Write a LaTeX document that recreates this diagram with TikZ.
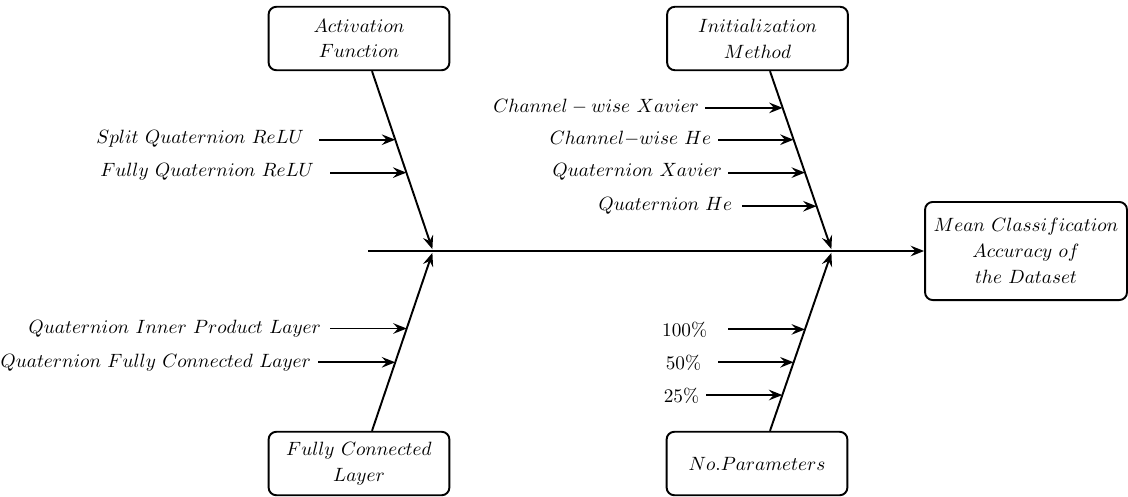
\documentclass[tikz,border=0pt]{standalone}
\usepackage{amsmath}
\usetikzlibrary{arrows.meta,calc}

\begin{document}
\begin{tikzpicture}[line width=1pt, >={Stealth[length=7pt,width=5.5pt,inset=2.5pt]}, x=0.52pt, y=-0.52pt,
        catbox/.style={draw, rounded corners=4pt, align=center, font=\linespread{1.12}\selectfont,
            minimum width=94pt, minimum height=33pt, inner sep=2pt},
        cause/.style={anchor=east, inner sep=0pt}]
        \useasboundingbox (0,0) rectangle (1128,496);

        % category boxes
        \node[catbox] (act) at (359,38.5) {$Activation$\\$Function$};
        \node[catbox] (init) at (757.5,38.5) {$Initialization$\\$Method$};
        \node[catbox] (fc) at (359,463.5) {$Fully\ Connected$\\$Layer$};
        \node[catbox] (par) at (757,463.5) {$No.Parameters$};
        \node[catbox, minimum width=105pt, minimum height=51pt] (acc) at (1026,251)
            {$Mean\ Classification$\\$Accuracy\ of$\\$the\ Dataset$};

        % spine
        \coordinate (tail) at (368,251);
        \coordinate (j1) at (433,251);
        \coordinate (j2) at (832,251);
        \draw[->] (tail) -- (acc.west);

        % bones
        \draw[->, shorten >=1pt] ($(act.south)+(13,0)$) -- (j1)
            coordinate[pos=0.381] (a1) coordinate[pos=0.564] (a2);
        \draw[->, shorten >=1pt] ($(init.south)+(12.5,0)$) -- (j2)
            coordinate[pos=0.204] (b1) coordinate[pos=0.381] (b2)
            coordinate[pos=0.564] (b3) coordinate[pos=0.751] (b4);
        \draw[->, shorten >=1pt] ($(fc.north)+(13,0)$) -- (j1)
            coordinate[pos=0.381] (c1) coordinate[pos=0.569] (c2);
        \draw[->, shorten >=1pt] ($(par.north)+(13,0)$) -- (j2)
            coordinate[pos=0.199] (d1) coordinate[pos=0.381] (d2) coordinate[pos=0.564] (d3);

        % causes
        \node[cause] (split) at (305,139) {$Split\ Quaternion\ ReLU$};
        \node[cause] (fully) at (315,172) {$Fully\ Quaternion\ ReLU$};
        \draw[->] ($(split.east |- a1)+(14,0)$) -- (a1);
        \draw[->] ($(fully.east |- a2)+(15,0)$) -- (a2);

        \node[cause] (cwx) at (700,107) {$Channel-wise\ Xavier$};
        \node[cause] (cwhe) at (712,139) {$Channel{-}wise\ He$};
        \node[cause] (qx) at (723,172) {$Quaternion\ Xavier$};
        \node[cause] (qhe) at (733,206) {$Quaternion\ He$};
        \draw[->] ($(cwx.east |- b1)+(5,0)$) -- (b1);
        \draw[->] ($(cwhe.east |- b2)+(6,0)$) -- (b2);
        \draw[->] ($(qx.east |- b3)+(5,0)$) -- (b3);
        \draw[->] ($(qhe.east |- b4)+(9,0)$) -- (b4);

        \node[cause] (qipl) at (322,329) {$Quaternion\ Inner\ Product\ Layer$};
        \node[cause] (qfcl) at (312,363) {$Quaternion\ Fully\ Connected\ Layer$};
        \draw[->] ($(qipl.east |- c2)+(8,0)$) -- (c2);
        \draw[->] ($(qfcl.east |- c1)+(6,0)$) -- (c1);

        \node[cause] (p100) at (708,330) {100\%};
        \node[cause] (p50) at (702,363) {50\%};
        \node[cause] (p25) at (700,396) {25\%};
        \draw[->] ($(p100.east |- d3)+(20,0)$) -- (d3);
        \draw[->] ($(p50.east |- d2)+(16,0)$) -- (d2);
        \draw[->] ($(p25.east |- d1)+(6,0)$) -- (d1);
    \end{tikzpicture}
\end{document}
